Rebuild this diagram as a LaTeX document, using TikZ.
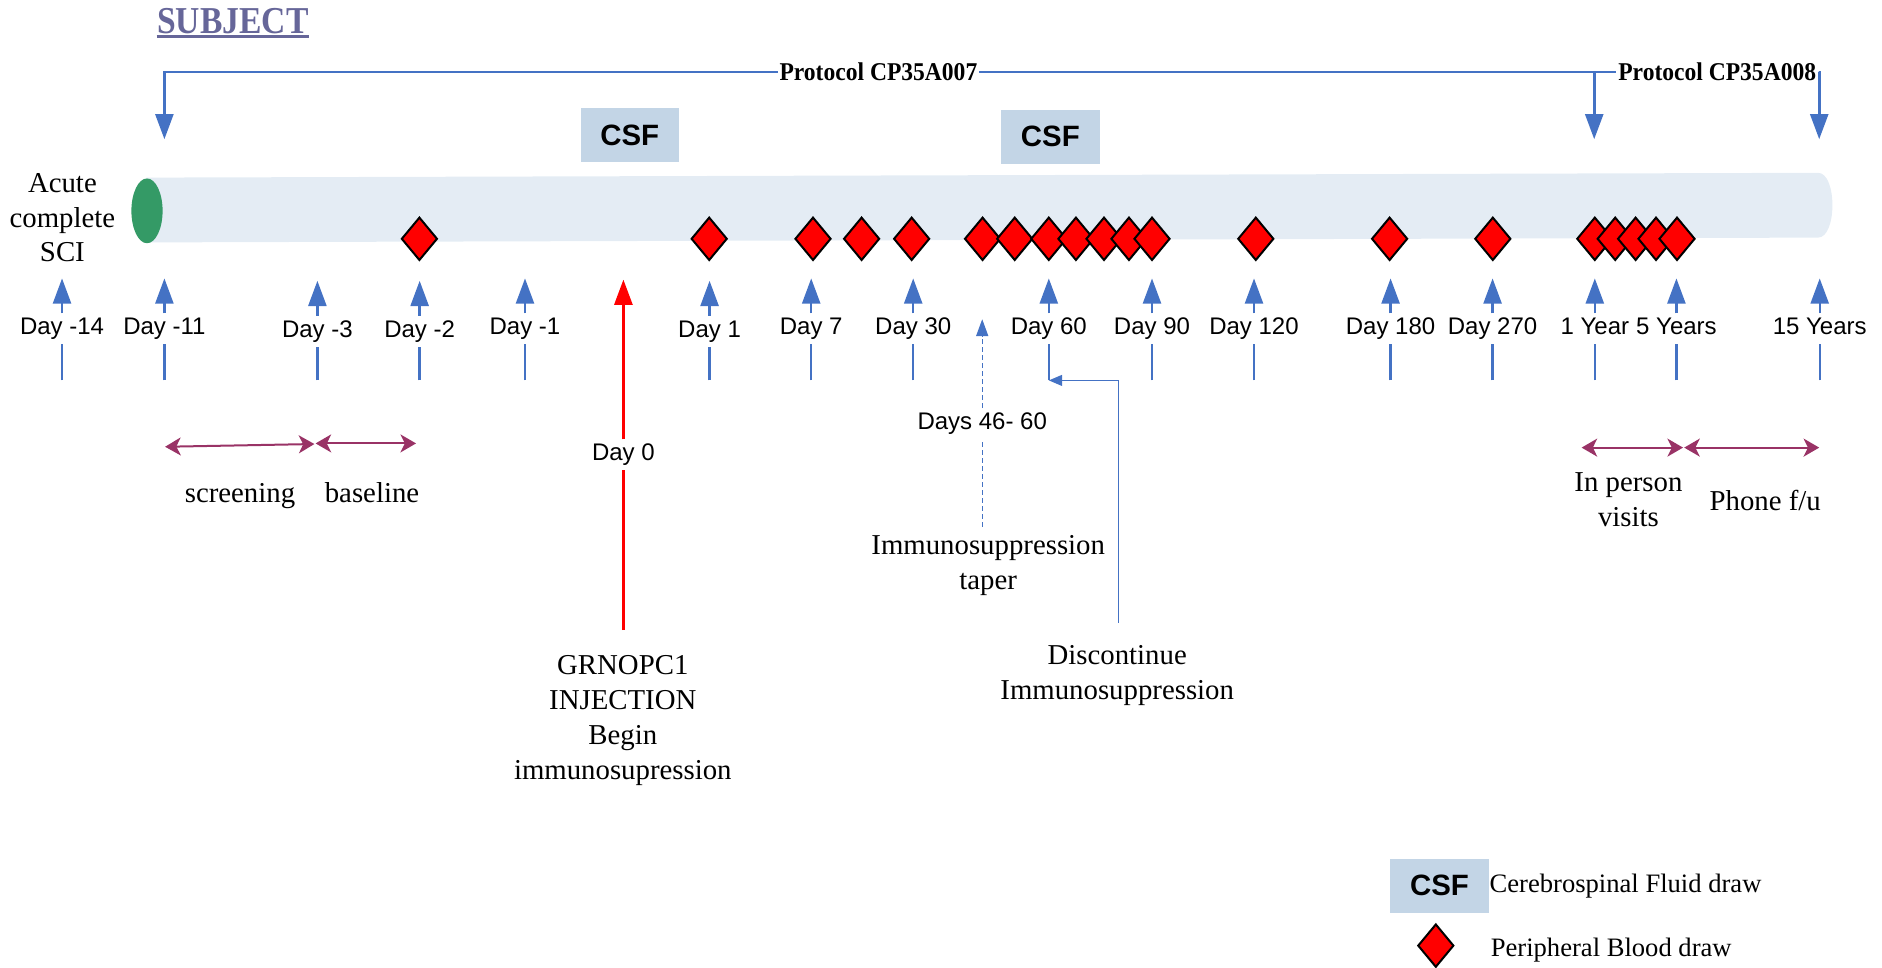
\documentclass[tikz,border=0pt]{standalone}
\usepackage{graphicx}
\usepackage{fontspec}
\setmainfont{Liberation Serif}
\setsansfont{Liberation Sans}
\usetikzlibrary{arrows.meta,shapes.geometric}
\definecolor{tlblue}{RGB}{68,114,196}
\definecolor{tubecol}{RGB}{228,236,244}
\definecolor{csfcol}{RGB}{195,213,230}
\definecolor{scigreen}{RGB}{52,154,102}
\definecolor{spanpurple}{RGB}{153,51,102}
\definecolor{subjcol}{RGB}{102,102,153}
\begin{document}
\begin{tikzpicture}[x=0.6pt,y=-0.6pt,
  tickline/.style={tlblue, line width=1.2pt},
  bigtip/.style={-{Triangle[length=12.6pt,width=9pt]}},
  daylab/.style={font=\sffamily\fontsize{12}{14}\selectfont, text height=9pt, text depth=3pt, inner xsep=1pt, inner ysep=1.5pt},
  blood/.style={diamond, draw=black, fill=red, line width=1pt, minimum width=18pt, minimum height=21.6pt, inner sep=0pt},
  csfbox/.style={fill=csfcol, minimum width=49.2pt, minimum height=27pt, inner sep=0pt, font=\sffamily\bfseries\fontsize{14.7}{17}\selectfont},
  serif14/.style={font=\fontsize{14.4}{17.4}\selectfont, align=center, inner sep=0pt},
  legtext/.style={font=\fontsize{13.3}{16}\selectfont, inner sep=0pt, anchor=base west},
  spanarrow/.style={spanpurple, line width=1pt, {Stealth[length=7.8pt,width=9pt,inset=2.2pt]}-{Stealth[length=7.8pt,width=9pt,inset=2.2pt]}},
  prot/.style={inner sep=1pt, font=\bfseries\fontsize{12.8}{14}\selectfont},
  protline/.style={tlblue, line width=1.3pt}
]
\useasboundingbox (0,0) rectangle (1568.33,805.83);

% title
\node[anchor=base, inner sep=0pt, text=subjcol, font=\bfseries\fontsize{19}{22}\selectfont] (subj) at (194,27.8) {\scalebox{0.885}[1]{SUBJECT}};
\draw[subjcol, line width=1.4pt] ([yshift=-1.4pt]subj.base west) -- ([yshift=-1.4pt]subj.base east);

% protocol bracket
\node[prot] (p8) at (1431,60) {\scalebox{0.92}[1]{Protocol CP35A008}};
\coordinate (ptipL) at (137,116);
\coordinate (pj1) at (1328.5,60);
\coordinate (ptip1) at (1328.5,116);
\coordinate (ptip15) at (1516,116);
\draw[protline, bigtip] (p8.west) -| (ptipL);
\draw[protline, bigtip] (pj1) -- (ptip1);
\draw[protline, bigtip] (p8.east) -| (ptip15);
\node[prot, fill=white] (p7) at (732,60) {\scalebox{0.92}[1]{Protocol CP35A007}};

% CSF boxes
\node[csfbox] (csf1) at (524.8,112.8) {CSF};
\node[csfbox] (csf2) at (875.3,113.8) {CSF};

% tube
\fill[tubecol] (122,148) -- (1515,144) .. controls (1531,144) and (1531,198) .. (1515,198) -- (122,202) -- cycle;
\node[ellipse, fill=scigreen, minimum width=15.6pt, minimum height=32.4pt, inner sep=0pt] (sci) at (122.5,175.7) {};
\node[serif14] (scitxt) at (52,181.5) {Acute\\complete\\SCI};

% blood draws
\foreach \i/\x in {1/349.5,2/591,3/677.5,4/718,5/759.7,6/818.8,7/845.6,8/874,9/896.6,10/920,11/940.8,12/960,13/1046.5,14/1158,15/1244,16/1329,17/1346,18/1363,19/1380,20/1397.5}
  \node[blood] (bd\i) at (\x,199) {};

% day ticks
\foreach \n/\x/\t/\dy in {m14/51.7/Day -14/0, m11/137/Day -11/0, m3/264.5/Day -3/2, m2/349.7/Day -2/2, m1/437.5/Day -1/0, d1/591.3/Day 1/2, d7/676/Day 7/0, d30/761/Day 30/0, d60/874/Day 60/0, d90/960/Day 90/0, d120/1045/Day 120/0, d180/1158.8/Day 180/0, d270/1243.8/Day 270/0, y1/1329/1 Year/0, y5/1397/5 Years/0, y15/1516.4/15 Years/0}{
  \coordinate (b\n) at (\x,317);
  \coordinate (t\n) at (\x,232+\dy);
  \node[daylab] (l\n) at (\x,274+\dy) {\t};
  \draw[tickline] (b\n) -- (l\n);
  \draw[tickline, bigtip] (l\n) -- (t\n);
}

% day 0 injection
\coordinate (r0b) at (519.5,525);
\coordinate (r0t) at (519.5,233);
\node[daylab] (l0) at (519.5,379) {Day 0};
\draw[red, line width=1.3pt] (r0b) -- (l0);
\draw[red, line width=1.3pt, bigtip] (l0) -- (r0t);
\node[serif14] (grn) at (519,600.5) {GRNOPC1\\INJECTION\\Begin\\immunosupression};

% taper
\coordinate (dsb) at (818.5,439);
\coordinate (dst) at (818.5,266);
\node[daylab] (lds) at (818.5,353) {Days 46- 60};
\draw[tlblue, line width=0.6pt, dash pattern=on 2.5pt off 1.5pt] (dsb) -- (lds);
\draw[tlblue, line width=0.6pt, dash pattern=on 2.5pt off 1.5pt, -{Triangle[length=8.4pt,width=6pt]}] (lds) -- (dst);
\node[serif14] (taper) at (823.5,471) {Immunosuppression\\taper};

% discontinue
\node[serif14] (disc) at (931,562.7) {Discontinue\\Immunosuppression};
\coordinate (dct) at (932,519);
\draw[tlblue, line width=0.7pt, -{Triangle[length=6.6pt,width=5.4pt]}] (dct) |- (bd60);

% spans
\coordinate (s1a) at (137.6,372.3);
\coordinate (s1b) at (262,370);
\coordinate (s2a) at (263,369.5);
\coordinate (s2b) at (346.7,369.5);
\coordinate (s3a) at (1318,373);
\coordinate (s3b) at (1402.5,373);
\coordinate (s4a) at (1403.5,373);
\coordinate (s4b) at (1516,373);
\draw[spanarrow] (s1a) -- (s1b);
\draw[spanarrow] (s2a) -- (s2b);
\draw[spanarrow] (s3a) -- (s3b);
\draw[spanarrow] (s4a) -- (s4b);
\node[serif14, anchor=base] (scr) at (200,419) {screening};
\node[serif14, anchor=base] (bas) at (310,419) {baseline};
\node[serif14] (inp) at (1357,416.5) {In person\\visits};
\node[serif14, anchor=base] (pho) at (1471,425) {Phone f/u};

% legend
\node[csfbox] (lcsf) at (1199.5,738) {CSF};
\node[legtext] (lcsft) at (1241,744) {Cerebrospinal Fluid draw};
\node[blood] (lbd) at (1196.5,788) {};
\node[legtext] (lbdt) at (1242,797) {Peripheral Blood draw};
\end{tikzpicture}
\end{document}
